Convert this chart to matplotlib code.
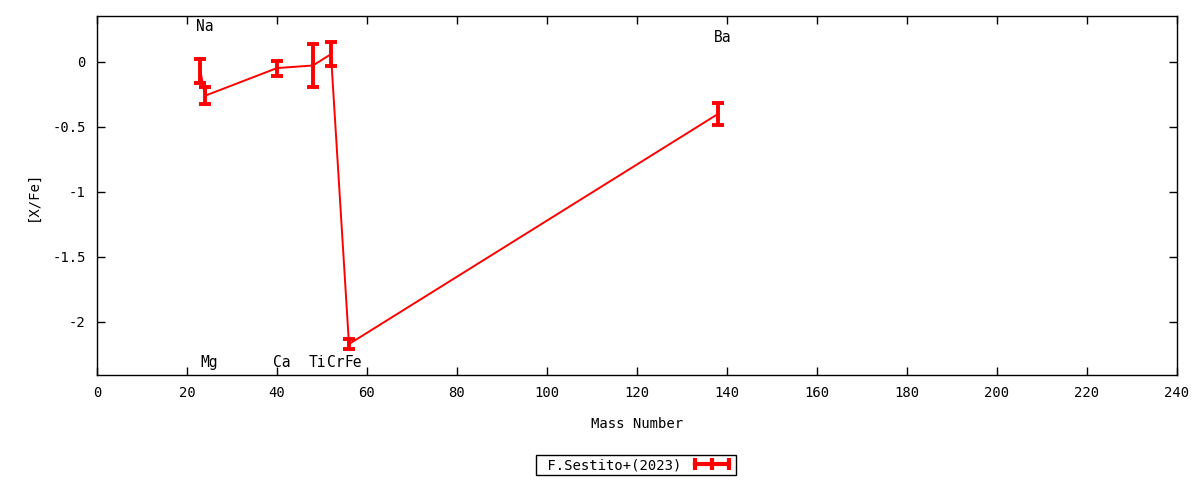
import matplotlib
matplotlib.use("Agg")
import matplotlib.pyplot as plt
from matplotlib.lines import Line2D

plt.rcParams["font.family"] = "DejaVu Sans Mono"
plt.rcParams["font.size"] = 10

# datos
elements = ["Na", "Mg", "Ca", "Ti", "Cr", "Fe", "Ba"]
mass = [23, 24, 40, 48, 52, 56, 138]
xfe = [-0.07, -0.26, -0.047, -0.027, 0.06, -2.17, -0.40]
err = [0.09, 0.065, 0.058, 0.163, 0.09, 0.04, 0.085]
label_y = [0.27, -2.315, -2.315, -2.315, -2.315, -2.315, 0.19]

fig = plt.figure(figsize=(12, 4.8), dpi=100)
ax = fig.add_axes([0.0808, 0.21875, 0.9, 0.748])

ax.errorbar(mass, xfe, yerr=err, color="red", lw=1.4, elinewidth=2.8,
            capsize=4, capthick=2.8)

for el, m, ly in zip(elements, mass, label_y):
    ax.text(m + 1, ly, el, ha="center", va="center", fontsize=10.5)

ax.set_xlim(0, 240)
ax.set_ylim(-2.408, 0.354)
ax.set_xticks(range(0, 241, 20))
ax.set_yticks([0, -0.5, -1, -1.5, -2])
ax.set_yticklabels(["0", "-0.5", "-1", "-1.5", "-2"])
ax.tick_params(direction="in", top=True, right=True, length=6, width=1, pad=8)
for s in ax.spines.values():
    s.set_linewidth(1)

ax.set_xlabel("Mass Number", labelpad=12)
ax.set_ylabel("[X/Fe]", labelpad=9)

handle = Line2D([], [], color="red", lw=3, marker="|", markersize=8,
                markeredgewidth=3)
fig.legend([handle], [" F.Sestito+(2023)"], loc="center",
           bbox_to_anchor=(0.53, 0.031), markerfirst=False, numpoints=3,
           fancybox=False, edgecolor="black", framealpha=1,
           borderpad=0.2, handlelength=3.0, handletextpad=0.7)

fig.savefig("out.png", dpi=100)
